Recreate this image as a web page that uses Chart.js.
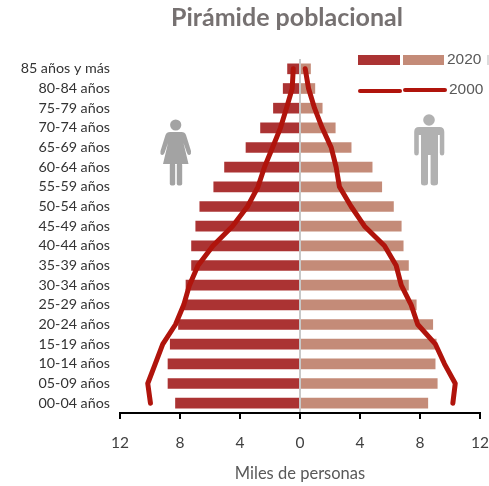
<!DOCTYPE html>
<html lang="es">
<head>
<meta charset="utf-8">
<style>
html,body{margin:0;padding:0;background:#fff;}
#wrap{position:relative;width:489px;height:486px;overflow:hidden;}
canvas{position:absolute;left:0;top:0;}
svg{position:absolute;left:0;top:0;pointer-events:none;}
</style>
<script src="https://cdn.jsdelivr.net/npm/chart.js@4"></script>
</head>
<body>
<div id="wrap">
<canvas id="c" width="489" height="486"></canvas>
<svg width="489" height="486" viewBox="0 0 489 486" aria-hidden="true">
  <g fill="#a3a3a3">
    <circle cx="175.7" cy="125" r="5.6"/>
    <path d="M170 132 H181.5 Q185 132 186 135 L191 151 Q191.5 154 189.5 155 Q187.8 155.5 187 153 L183.5 143 L188.5 164 H163 L168 143 L164.5 153 Q163.5 155.5 161.8 155 Q159.8 154 160.5 151 L165.5 135 Q166.5 132 170 132 Z"/>
    <rect x="169.8" y="163" width="5.4" height="22.5" rx="1.8"/>
    <rect x="176.8" y="163" width="5.4" height="22.5" rx="1.8"/>
  </g>
  <g fill="#b1b1b1">
    <circle cx="429" cy="120" r="5.8"/>
    <path d="M419 127 H439.5 Q444.3 127 444.3 132 V153 Q444.3 155.5 442 155.5 Q439.8 155.5 439.8 153 V135 H438 V183 Q438 185.5 434 185.5 Q430.6 185.5 430.6 183 V155 H428 V183 Q428 185.5 424.3 185.5 Q421 185.5 421 183 V135 H418.8 V153 Q418.8 155.5 416.5 155.5 Q414.2 155.5 414.2 153 V132 Q414.2 127 419 127 Z"/>
  </g>
</svg>
</div>
<script>
const titleText = "Pirámide poblacional";
const axisTitle = "Miles de personas";
const categories = ["85 años y más","80-84 años","75-79 años","70-74 años","65-69 años","60-64 años","55-59 años","50-54 años","45-49 años","40-44 años","35-39 años","30-34 años","25-29 años","20-24 años","15-19 años","10-14 años","05-09 años","00-04 años"];
const women2020 = [0.83,1.12,1.77,2.63,3.6,5.03,5.75,6.68,6.95,7.23,7.23,7.6,7.75,8.1,8.65,8.8,8.8,8.3];
const men2020 = [0.7,0.99,1.48,2.35,3.41,4.81,5.45,6.23,6.75,6.88,7.23,7.23,7.75,8.85,9.08,9.01,9.15,8.52];
const women2000 = [0.45,0.52,0.9,1.3,1.83,2.37,2.8,3.5,4.5,5.8,6.8,7.37,7.75,8.3,9.15,9.65,10.15,9.97];
const men2000 = [0.35,0.57,0.97,1.48,2.08,2.41,2.63,3.41,4.3,5.63,6.41,6.75,7.41,7.85,9.03,9.63,10.35,10.19];
const legendYears = ["2020","2000"];
const colWomen = "#ab3333", colMen = "#c48b78", colLine = "#b0140c";

const neg = a => a.map(v => -v);
const decor = {
  id:"decor",
  afterDraw(chart){
    const c = chart.ctx;
    c.save();
    c.textBaseline = "middle"; c.textAlign = "left";
    c.fillStyle = "#767171";
    c.font = "bold 25px Lato, 'Open Sans', sans-serif";
    c.textAlign = "center";
    c.fillText(titleText, 287, 18);
    c.textAlign = "left";
    // legend
    c.fillStyle = colWomen; c.fillRect(358,55,42,10);
    c.fillStyle = colMen; c.fillRect(403,55,41,10);
    c.fillStyle = "#dcdcdc"; c.fillRect(487,55,2,10);
    c.strokeStyle = colLine; c.lineWidth = 4; c.lineCap = "round";
    c.beginPath(); c.moveTo(360,91); c.lineTo(400,91); c.stroke();
    c.beginPath(); c.moveTo(405,90); c.lineTo(445,90); c.stroke();
    c.fillStyle = "#595959";
    c.font = "15.5px 'Liberation Sans', sans-serif";
    c.fillText(legendYears[0], 447, 60);
    c.fillText(legendYears[1], 449, 90);
    c.restore();
  }
};
new Chart(document.getElementById("c"), {
  data:{
    labels:categories,
    datasets:[
      {type:"bar",label:"Mujeres 2020",data:neg(women2020),backgroundColor:colWomen,barThickness:10,grouped:false,order:2},
      {type:"bar",label:"Hombres 2020",data:men2020,backgroundColor:colMen,barThickness:10,grouped:false,order:2},
      {type:"line",label:"Mujeres 2000",data:neg(women2000),borderColor:colLine,borderWidth:5,pointRadius:0,tension:0,borderCapStyle:"round",borderJoinStyle:"round",clip:false,order:1},
      {type:"line",label:"Hombres 2000",data:men2000,borderColor:colLine,borderWidth:5,pointRadius:0,tension:0,borderCapStyle:"round",borderJoinStyle:"round",clip:false,order:1}
    ]
  },
  options:{
    indexAxis:"y",
    responsive:false,
    animation:false,
    layout:{padding:{top:59,right:9,left:0,bottom:0}},
    plugins:{legend:{display:false},title:{display:false},tooltip:{enabled:false}},
    scales:{
      x:{
        min:-12,max:12,
        border:{display:true,color:"#000",width:2,z:2},
        grid:{
          z:1,drawOnChartArea:true,drawTicks:true,tickLength:6,tickColor:"#000",tickWidth:2,
          color:ctx=>ctx.tick && ctx.tick.value===0 ? "#c8c8c8" : "rgba(0,0,0,0)",
          lineWidth:2
        },
        ticks:{stepSize:4,maxRotation:0,autoSkip:false,padding:15,color:"#404040",font:{family:"Lato",size:15.5},callback:v=>String(Math.abs(v))},
        title:{display:true,text:axisTitle,color:"#595959",font:{family:"Lato",size:16.5},padding:{top:10,bottom:2}},
        afterFit(s){s.height=73;s.paddingLeft=0;s.paddingRight=0;}
      },
      y:{
        type:"category",
        offset:true,
        border:{display:false},
        grid:{display:false,drawTicks:false},
        ticks:{autoSkip:false,padding:10,color:"#333333",font:{family:"Lato",size:14.3}},
        afterFit(s){s.width=120;s.paddingTop=0;s.paddingBottom=0;}
      }
    }
  },
  plugins:[decor]
});
</script>
</body>
</html>
